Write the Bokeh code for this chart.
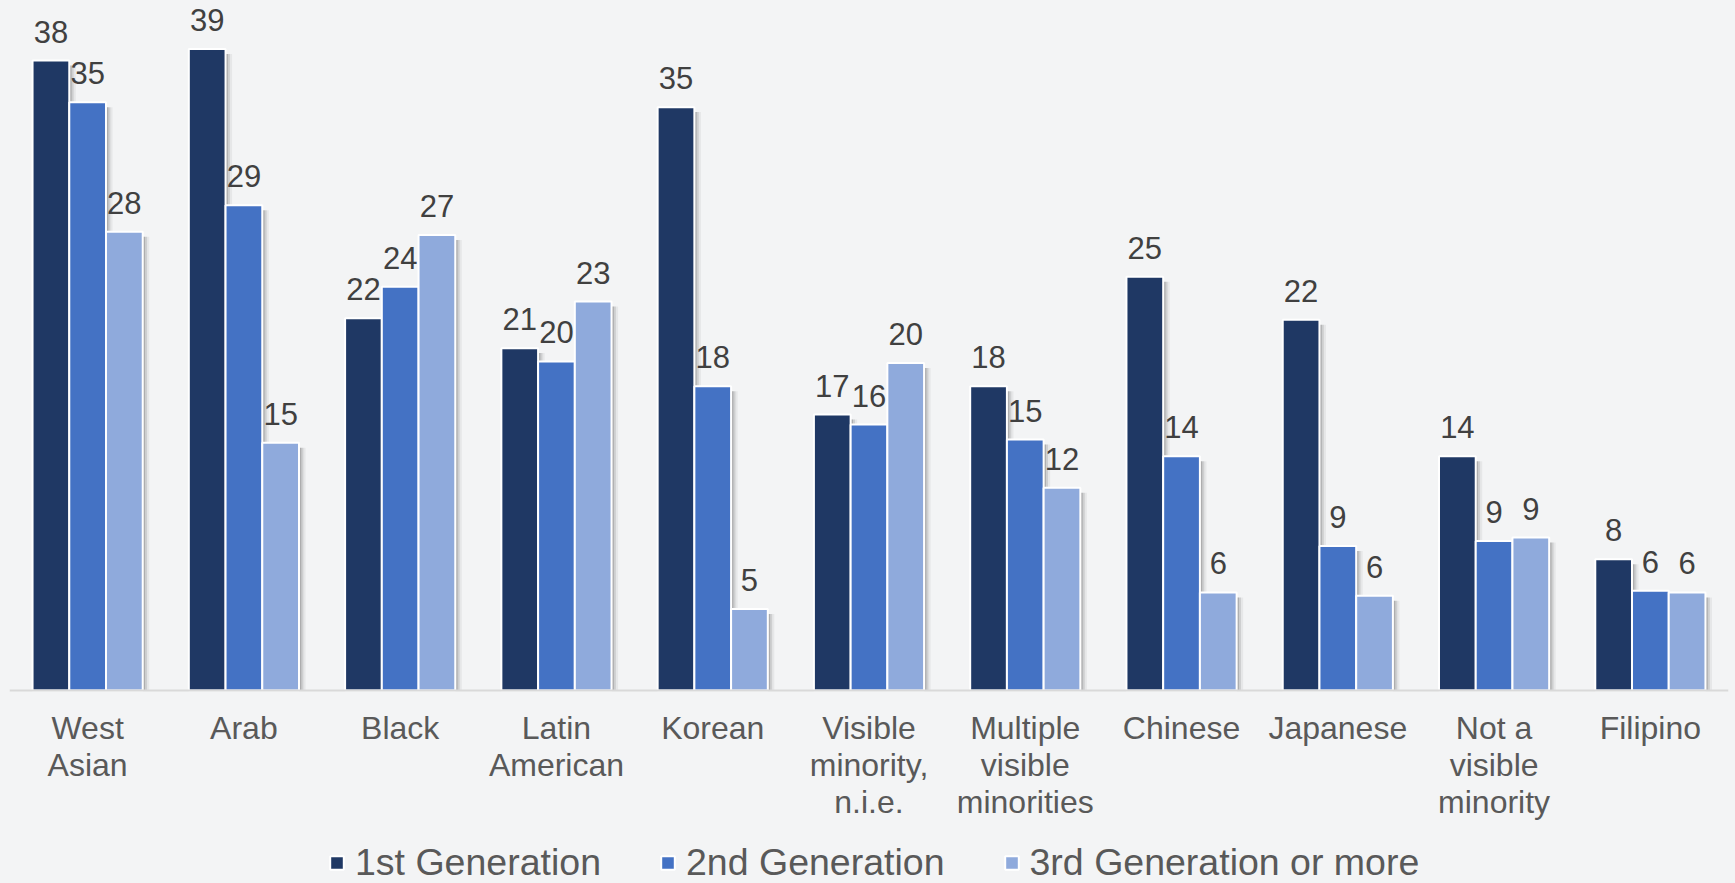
from bokeh.plotting import figure
from bokeh.models import ColumnDataSource, FactorRange, Legend, LegendItem, Range1d, Span
from bokeh.transform import dodge
from bokeh.embed import file_html
from bokeh.resources import INLINE
from bokeh.core.properties import value

categories = ["West Asian", "Arab", "Black", "Latin American", "Korean",
              "Visible minority, n.i.e.", "Multiple visible minorities",
              "Chinese", "Japanese", "Not a visible minority", "Filipino"]
tick_labels = ["West\nAsian", "Arab", "Black", "Latin\nAmerican", "Korean",
               "Visible\nminority,\nn.i.e.", "Multiple\nvisible\nminorities",
               "Chinese", "Japanese", "Not a\nvisible\nminority", "Filipino"]
series_names = ["1st Generation", "2nd Generation", "3rd Generation or more"]
gen1 = [37.9, 38.6, 22.4, 20.6, 35.1, 16.6, 18.3, 24.9, 22.3, 14.1, 7.9]
gen2 = [35.4, 29.2, 24.3, 19.8, 18.3, 16.0, 15.1, 14.1, 8.7, 9.0, 6.0]
gen3 = [27.6, 14.9, 27.4, 23.4, 4.9, 19.7, 12.2, 5.9, 5.7, 9.2, 5.9]
colors = ["#1F3864", "#4472C4", "#8FAADC"]

BG = "#F3F4F5"
FONT = "Liberation Sans"
W, H = 1735, 883
BASE = 690          # pixel row of the category axis line
PX_PER_UNIT = 16.62

series = [gen1, gen2, gen3]
data = {"x": categories, "ticks": tick_labels, "zero": [0] * len(categories)}
for i, s in enumerate(series):
    data[f"g{i}"] = s
    data[f"l{i}"] = [str(round(v)) for v in s]
    data[f"s{i}"] = [v - 0.3 for v in s]
source = ColumnDataSource(data)

p = figure(x_range=FactorRange(factors=categories, range_padding=0),
           y_range=Range1d(-(H - BASE) / PX_PER_UNIT, BASE / PX_PER_UNIT),
           width=W, height=H, output_backend="svg", toolbar_location=None,
           min_border_left=9, min_border_right=7, min_border_top=0, min_border_bottom=0,
           background_fill_color=BG, border_fill_color=BG)

step = 0.235
bw = 0.235
offsets = [-step, 0.0, step]

# soft drop shadows
for i, off in enumerate(offsets):
    p.vbar(x=dodge("x", off + 0.042, range=p.x_range), top=f"s{i}", width=bw,
           source=source, fill_color="black", fill_alpha=0.05, line_color=None)
    p.vbar(x=dodge("x", off + 0.028, range=p.x_range), top=f"s{i}", width=bw,
           source=source, fill_color="black", fill_alpha=0.10, line_color=None)
    p.vbar(x=dodge("x", off + 0.015, range=p.x_range), top=f"s{i}", width=bw,
           source=source, fill_color="black", fill_alpha=0.16, line_color=None)

renderers = []
for i, off in enumerate(offsets):
    r = p.vbar(x=dodge("x", off, range=p.x_range), top=f"g{i}", width=bw,
               source=source, fill_color=colors[i], line_color="white", line_width=2)
    renderers.append(r)
    p.text(x=dodge("x", off, range=p.x_range), y=f"g{i}", text=f"l{i}", source=source,
           text_align="center", text_baseline="alphabetic", y_offset=-29,
           text_font_size="31px", text_color="#404040", text_font=value(FONT))

# category axis line and (multi-line) category labels
p.add_layout(Span(location=0, dimension="width", line_color="#D9D9D9", line_width=2))
p.text(x="x", y="zero", text="ticks", source=source,
       text_align="center", text_baseline="top", y_offset=19, text_line_height=1.035,
       text_font_size="32px", text_color="#595959", text_font=value(FONT))

p.xaxis.visible = False
p.yaxis.visible = False
p.xgrid.grid_line_color = None
p.ygrid.grid_line_color = None
p.outline_line_color = None

legend = Legend(items=[LegendItem(label=n, renderers=[r]) for n, r in zip(series_names, renderers)],
                location=(319, -1), orientation="horizontal",
                glyph_width=17, glyph_height=17, label_standoff=10, spacing=58,
                padding=0, margin=0, border_line_color=None, background_fill_alpha=0,
                label_text_font_size="37.5px", label_text_color="#595959", label_text_font=FONT)
p.add_layout(legend)

html = file_html(p, INLINE)
html = html.replace("<head>",
                    "<head><style>html,body{margin:0;padding:0;overflow:hidden;background:%s;}</style>" % BG, 1)
open("out.html", "w").write(html)
